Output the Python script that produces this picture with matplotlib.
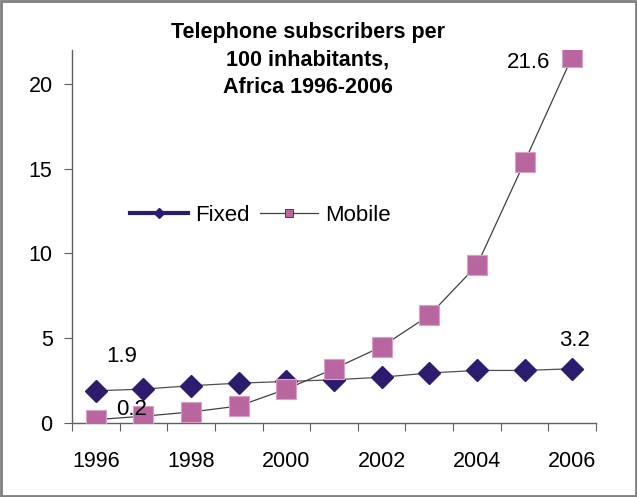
import matplotlib.pyplot as plt
from matplotlib.lines import Line2D
from matplotlib.patches import Rectangle

plt.rcParams['font.family'] = ['Liberation Sans', 'DejaVu Sans']

years = [1996, 1997, 1998, 1999, 2000, 2001, 2002, 2003, 2004, 2005, 2006]
fixed = [1.9, 2.0, 2.2, 2.35, 2.45, 2.55, 2.7, 2.95, 3.1, 3.1, 3.2]
mobile = [0.2, 0.4, 0.65, 1.0, 2.0, 3.2, 4.5, 6.35, 9.3, 15.4, 21.6]
year_labels = ['1996', '1998', '2000', '2002', '2004', '2006']
title = 'Telephone subscribers per\n100 inhabitants,\nAfrica 1996-2006'

navy = '#2d1b6e'
pink = '#b966a0'
linec = '#404040'

fig = plt.figure(figsize=(6.37, 4.97), dpi=100)
ax = fig.add_axes([72 / 637, 1 - 423 / 497, 524 / 637, 373 / 497])

x = list(range(len(years)))
ax.plot(x, fixed, color='#505050', lw=0.9, marker='D', ms=11,
        markerfacecolor=navy, markeredgecolor=navy, zorder=3)
ax.plot(x, mobile, color=linec, lw=0.9, marker='s', ms=14.5,
        markerfacecolor=pink, markeredgecolor='#d9a0c6', markeredgewidth=0.8, zorder=4)

# data labels
ax.annotate('1.9', (0, fixed[0]), xytext=(26, 34), textcoords='offset pixels',
            ha='center', va='center', fontsize=16)
ax.annotate('0.2', (0, mobile[0]), xytext=(36, 10), textcoords='offset pixels',
            ha='center', va='center', fontsize=16, zorder=5)
ax.annotate('3.2', (10, fixed[-1]), xytext=(2, 28), textcoords='offset pixels',
            ha='center', va='center', fontsize=16)
ax.annotate('21.6', (10, mobile[-1]), xytext=(-44, -6), textcoords='offset pixels',
            ha='center', va='center', fontsize=16)

ax.set_xlim(-0.5, 10.5)
ax.set_ylim(0, 22)
ax.set_yticks([0, 5, 10, 15, 20])
ax.set_xticks([i - 0.5 for i in range(len(years) + 1)])
ax.set_xticklabels([])
ax.set_xticks(x[::2], minor=True)
ax.set_xticklabels(year_labels, minor=True)
ax.tick_params(axis='x', which='major', length=6, color='#606060', direction='out')
ax.tick_params(axis='x', which='minor', length=0, labelsize=15.5, pad=20)
ax.tick_params(axis='y', length=6, color='#606060', labelsize=15.5, pad=8)
for s in ['top', 'right']:
    ax.spines[s].set_visible(False)
for s in ['left', 'bottom']:
    ax.spines[s].set_color('#606060')
    ax.spines[s].set_linewidth(1)

fig.text(308 / 637, 1 - 60 / 497, title, ha='center', va='center',
         fontsize=15.5, fontweight='bold', linespacing=1.4)

handles = [
    Line2D([], [], color=navy, lw=3, marker='D', ms=5, markerfacecolor=navy),
    Line2D([], [], color=linec, lw=0.9, marker='s', ms=6,
           markerfacecolor=pink, markeredgecolor='#303030', markeredgewidth=0.6),
]
fig.legend(handles, ['Fixed', 'Mobile'], loc='center left',
           bbox_to_anchor=(130 / 637, 1 - 215 / 497), ncol=2, frameon=False,
           fontsize=16, handlelength=2.6, handletextpad=0.35, columnspacing=0.45,
           borderpad=0, borderaxespad=0)

fig.add_artist(Rectangle((0.002, 0.002), 0.996, 0.996, transform=fig.transFigure,
                         fill=False, edgecolor='#808080', lw=2))

fig.savefig('out.png', dpi=100)
